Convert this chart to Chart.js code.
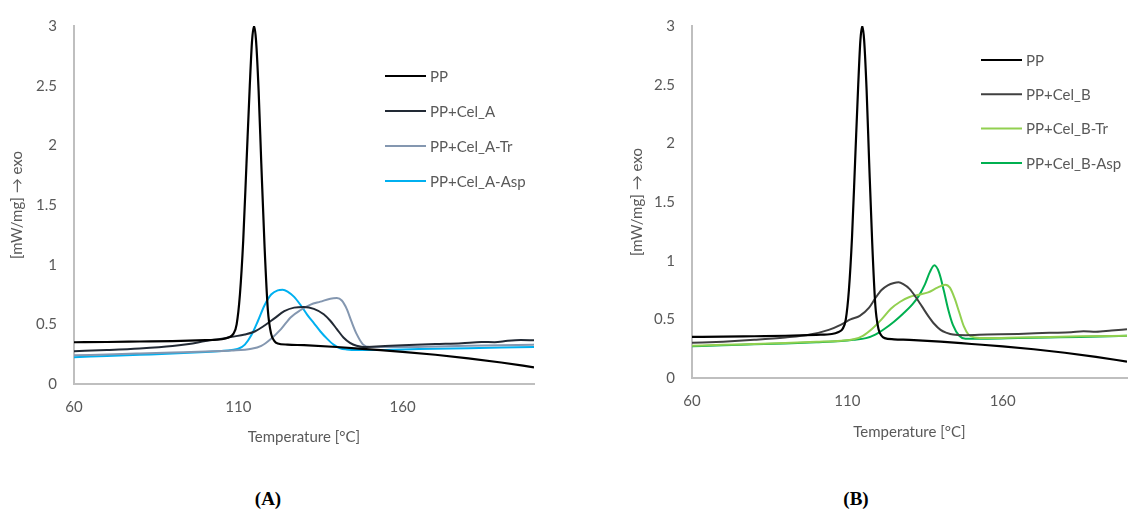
<!DOCTYPE html>
<html>
<head>
<meta charset="utf-8">
<script src="https://cdn.jsdelivr.net/npm/chart.js@4/dist/chart.umd.min.js"></script>
<style>
  html, body { margin: 0; padding: 0; background: #fff; }
  body { width: 1129px; height: 513px; position: relative; overflow: hidden; }
  canvas { position: absolute; top: 0; }
  #cA { left: 0; }
  #cB { left: 610px; }
  .lab { position: absolute; font-family: "Liberation Serif", serif; font-weight: bold; font-size: 19px; color: #000; transform: translate(-50%, -50%); }
</style>
</head>
<body>
<canvas id="cA" width="564" height="446"></canvas>
<canvas id="cB" width="519" height="441"></canvas>
<div class="lab" style="left:268px; top:499px;">(A)</div>
<div class="lab" style="left:856px; top:499px;">(B)</div>
<script>
// ---------- tick labels ----------
const xTicks = [60, 110, 160];
const yTicks = [0, 0.5, 1, 1.5, 2, 2.5, 3];
const xTitle = "Temperature [°C]";
const yTitle = "[mW/mg] → exo";

// ---------- panel A series ----------
const labelsA = ["PP", "PP+Cel_A", "PP+Cel_A-Tr", "PP+Cel_A-Asp"];
const colorsA = ["#000000", "#222a35", "#8497b0", "#00b0f0"];

const ppT = [60, 70, 80, 90, 100, 105, 107, 108.5, 109.5, 110.5, 111.5, 112.5, 113.5, 114.2, 114.8, 115.4, 116.2, 117, 118, 119, 120, 121, 122, 125, 130, 140, 150, 160, 170, 180, 190, 200];
const ppY = [0.35, 0.352, 0.356, 0.36, 0.368, 0.375, 0.39, 0.42, 0.5, 0.75, 1.2, 1.85, 2.5, 2.88, 3.0, 2.88, 2.45, 1.85, 1.15, 0.62, 0.42, 0.36, 0.34, 0.33, 0.325, 0.31, 0.29, 0.27, 0.245, 0.215, 0.18, 0.14];

const celAT = [60, 70, 80, 90, 95, 100, 105, 108, 112, 115, 118, 121, 124, 127, 130, 133, 136, 138, 140, 142, 144, 146, 148, 152, 160, 170, 178, 184, 188, 192, 196, 200];
const celAY = [0.275, 0.285, 0.298, 0.318, 0.335, 0.36, 0.38, 0.395, 0.415, 0.44, 0.49, 0.55, 0.61, 0.64, 0.645, 0.63, 0.585, 0.53, 0.46, 0.39, 0.345, 0.32, 0.31, 0.315, 0.325, 0.335, 0.342, 0.352, 0.35, 0.362, 0.368, 0.366];

const trAT = [60, 70, 80, 90, 100, 108, 114, 117, 120, 123, 126, 129, 132, 135, 138, 140, 141.5, 143, 144.5, 146, 148, 150, 160, 170, 180, 190, 200];
const trAY = [0.24, 0.248, 0.256, 0.264, 0.272, 0.28, 0.295, 0.32, 0.38, 0.46, 0.56, 0.62, 0.665, 0.69, 0.715, 0.72, 0.7, 0.63, 0.52, 0.42, 0.33, 0.31, 0.31, 0.315, 0.32, 0.325, 0.33];

const aspAT = [60, 70, 80, 90, 100, 105, 108, 110, 112, 114, 116, 118, 120, 122, 123.5, 125, 127, 129, 131, 133, 135, 137, 139, 141, 143, 146, 150, 160, 170, 180, 190, 200];
const aspAY = [0.225, 0.235, 0.245, 0.255, 0.268, 0.277, 0.285, 0.295, 0.33, 0.41, 0.53, 0.66, 0.75, 0.785, 0.79, 0.775, 0.73, 0.66, 0.58, 0.51, 0.44, 0.38, 0.33, 0.3, 0.29, 0.285, 0.285, 0.29, 0.295, 0.3, 0.305, 0.31];

// ---------- panel B series ----------
const labelsB = ["PP", "PP+Cel_B", "PP+Cel_B-Tr", "PP+Cel_B-Asp"];
const colorsB = ["#000000", "#404040", "#92d050", "#00b050"];

const celBT = [60, 70, 80, 90, 98, 104, 108, 111, 114, 117, 119, 121, 123, 125, 126.5, 128, 130, 132, 134, 136, 138, 140, 142, 144, 148, 155, 165, 175, 182, 186, 190, 195, 200];
const celBY = [0.30, 0.31, 0.325, 0.345, 0.37, 0.41, 0.455, 0.50, 0.53, 0.6, 0.68, 0.75, 0.79, 0.81, 0.815, 0.8, 0.76, 0.69, 0.61, 0.53, 0.46, 0.41, 0.385, 0.37, 0.365, 0.37, 0.375, 0.385, 0.39, 0.398, 0.394, 0.405, 0.415];

const trBT = [60, 70, 80, 90, 100, 108, 112, 115, 118, 121, 124, 127, 130, 133, 136, 139, 141.5, 143, 144.5, 146, 147.5, 149, 151, 155, 165, 175, 185, 200];
const trBY = [0.275, 0.283, 0.29, 0.298, 0.308, 0.318, 0.33, 0.36, 0.42, 0.5, 0.59, 0.65, 0.69, 0.71, 0.73, 0.77, 0.795, 0.77, 0.68, 0.56, 0.44, 0.37, 0.345, 0.34, 0.345, 0.35, 0.355, 0.36];

const aspBT = [60, 70, 80, 90, 100, 108, 112, 116, 119, 122, 125, 128, 131, 133, 135, 136.5, 138, 139.5, 141, 142.5, 144, 146, 148, 155, 165, 175, 185, 200];
const aspBY = [0.27, 0.28, 0.287, 0.295, 0.305, 0.315, 0.325, 0.34, 0.37, 0.42, 0.48, 0.55, 0.63, 0.7, 0.8, 0.9, 0.96, 0.9, 0.75, 0.58, 0.45, 0.36, 0.335, 0.335, 0.34, 0.345, 0.35, 0.36];

// ---------- helpers ----------
const FONT = "Lato, 'Open Sans', sans-serif";
const TXT = "#595959";
const pts = (T, Y) => T.map((t, i) => ({ x: t, y: Y[i] }));

function makeDatasets(labels, colors, series) {
  return series.map((s, i) => ({
    label: labels[i],
    data: pts(s[0], s[1]),
    borderColor: colors[i],
    backgroundColor: colors[i],
    borderWidth: i === 0 ? 2.2 : 2,
    pointRadius: 0,
    fill: false,
    tension: 0.4,
    cubicInterpolationMode: 'monotone'
  }));
}

const insideLegend = {
  id: 'insideLegend',
  afterDraw(chart, args, opts) {
    const ctx = chart.ctx;
    ctx.save();
    ctx.font = "15px " + FONT;
    ctx.textBaseline = 'middle';
    ctx.textAlign = 'left';
    chart.data.datasets.forEach((ds, i) => {
      const y = opts.y0 + i * opts.dy;
      ctx.strokeStyle = ds.borderColor;
      ctx.lineWidth = 2;
      ctx.beginPath();
      ctx.moveTo(opts.x0, y);
      ctx.lineTo(opts.x0 + 41, y);
      ctx.stroke();
      ctx.fillStyle = TXT;
      ctx.fillText(ds.label, opts.x0 + 45, y + 1);
    });
    ctx.restore();
  }
};

function makeChart(id, datasets, yw, xh, pad, legendPos) {
  return new Chart(document.getElementById(id), {
    type: 'line',
    data: { datasets },
    plugins: [insideLegend],
    options: {
      responsive: false,
      animation: false,
      devicePixelRatio: 1,
      layout: { padding: pad },
      plugins: {
        legend: { display: false },
        tooltip: { enabled: false },
        insideLegend: legendPos
      },
      scales: {
        x: {
          type: 'linear',
          min: 60, max: 200,
          grid: { display: false, drawTicks: false },
          border: { display: true, color: '#bfbfbf', width: 2 },
          afterBuildTicks: s => { s.ticks = xTicks.map(v => ({ value: v })); },
          afterFit: s => { s.height = xh; },
          ticks: { color: TXT, font: { family: FONT, size: 15 }, padding: 14, maxRotation: 0, callback: v => String(v) },
          title: { display: true, text: xTitle, color: TXT, font: { family: FONT, size: 15 }, padding: { top: 0, bottom: 0 } }
        },
        y: {
          type: 'linear',
          min: 0, max: 3,
          grid: { display: false, drawTicks: false },
          border: { display: true, color: '#bfbfbf', width: 2 },
          afterBuildTicks: s => { s.ticks = yTicks.map(v => ({ value: v })); },
          afterFit: s => { s.width = yw; },
          ticks: { color: TXT, font: { family: FONT, size: 15 }, padding: 17, callback: v => String(v) },
          title: { display: true, text: yTitle, color: TXT, font: { family: FONT, size: 15 }, padding: { top: legendPos.tp, bottom: 0 } }
        }
      }
    }
  });
}

makeChart('cA',
  makeDatasets(labelsA, colorsA, [[ppT, ppY], [celAT, celAY], [trAT, trAY], [aspAT, aspAY]]),
  74, 62, { top: 20, right: 30, left: 0, bottom: 0 },
  { x0: 385, y0: 76, dy: 35, tp: 8 });

makeChart('cB',
  makeDatasets(labelsB, colorsB, [[ppT, ppY], [celBT, celBY], [trBT, trBY], [aspBT, aspBY]]),
  82, 63, { top: 18, right: 2, left: 0, bottom: 0 },
  { x0: 371, y0: 60, dy: 34.3, tp: 18 });
</script>
</body>
</html>
